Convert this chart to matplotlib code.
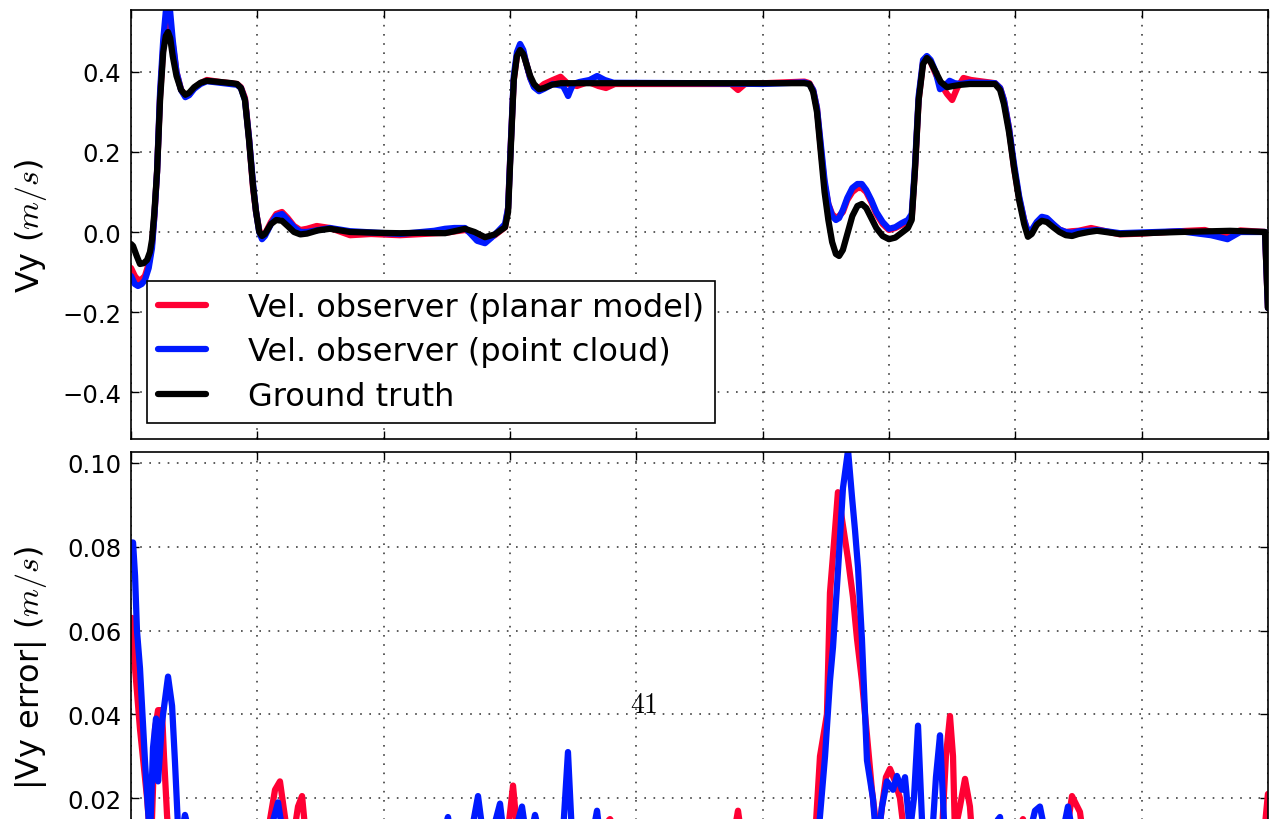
import numpy as np
import matplotlib
matplotlib.use("Agg")
import matplotlib.pyplot as plt
from matplotlib.ticker import MultipleLocator, FuncFormatter

plt.rcParams['mathtext.fontset'] = 'cm'
plt.rcParams['font.family'] = 'DejaVu Sans'

# --- Vy (m/s), time in s ---
t_truth = [0.0, 0.16, 0.45, 0.71, 1.0, 1.27, 1.5, 1.66, 1.85, 2.06,
           2.3, 2.55, 2.75, 2.93, 3.1, 3.3, 3.6, 3.96, 4.3, 4.6,
           5.0, 5.5, 6.0, 7.05, 8.0, 8.39, 8.7, 9.02, 9.34, 9.66,
           9.9, 10.15, 10.37, 10.6, 11.08, 11.5, 11.95, 12.4, 12.9, 13.4,
           13.93, 14.8, 15.75, 17.34, 19.5, 21.29, 23.0, 24.86, 25.6, 26.44,
           27.2, 28.02, 28.8, 29.61, 29.85, 30.05, 30.3, 30.55, 30.8, 31.05,
           31.3, 31.6, 31.9, 32.3, 32.7, 33.3, 34.0, 37.13, 45.04, 53.3,
           53.7, 54.0, 54.3, 54.6, 54.9, 55.2, 55.5, 55.8, 56.05, 56.35,
           56.7, 57.1, 57.5, 57.85, 58.2, 58.6, 59.0, 59.5, 60.0, 60.5,
           61.0, 61.5, 61.8, 62.05, 62.35, 62.7, 63.0, 63.3, 63.7, 64.1,
           64.6, 65.1, 65.7, 66.4, 68.4, 68.8, 69.1, 69.5, 69.9, 70.3,
           70.7, 71.0, 71.3, 71.7, 72.1, 72.5, 73.0, 73.5, 74.0, 74.5,
           75.0, 75.8, 76.47, 78.29, 83.04, 87.0, 89.77, 90.0]
vy_truth = [-0.03, -0.035, -0.06, -0.08, -0.078, -0.07, -0.05, -0.02, 0.05, 0.15,
            0.33, 0.45, 0.49, 0.50, 0.485, 0.44, 0.39, 0.355, 0.343, 0.348,
            0.362, 0.373, 0.378, 0.375, 0.372, 0.37, 0.36, 0.33, 0.23, 0.115,
            0.05, 0.0, -0.01, -0.005, 0.02, 0.03, 0.028, 0.015, 0.0, -0.006,
            -0.004, 0.004, 0.008, 0.0, -0.002, -0.003, -0.002, -0.003, 0.002, 0.008,
            0.0, -0.013, -0.006, 0.012, 0.05, 0.2, 0.38, 0.44, 0.455, 0.445,
            0.42, 0.39, 0.37, 0.357, 0.36, 0.368, 0.372, 0.372, 0.372, 0.372,
            0.37, 0.35, 0.3, 0.2, 0.1, 0.03, -0.025, -0.055, -0.06, -0.045,
            -0.005, 0.04, 0.065, 0.07, 0.06, 0.035, 0.01, -0.01, -0.018, -0.014,
            -0.002, 0.01, 0.03, 0.15, 0.33, 0.42, 0.435, 0.425, 0.4, 0.375,
            0.362, 0.365, 0.368, 0.37, 0.37, 0.355, 0.32, 0.25, 0.16, 0.08,
            0.02, -0.012, -0.005, 0.018, 0.028, 0.025, 0.012, 0.0, -0.008, -0.01,
            -0.005, 0.0, 0.003, -0.005, 0.0, 0.003, 0.0, -0.19]

t_cloud = [0.0, 0.3, 0.55, 0.85, 1.10, 1.4, 1.66, 1.85, 2.06, 2.3,
           2.55, 2.75, 2.93, 3.1, 3.3, 3.6, 3.96, 4.3, 4.6, 5.0,
           5.5, 6.0, 7.05, 8.39, 8.7, 9.02, 9.34, 9.66, 9.9, 10.15,
           10.37, 10.6, 11.08, 11.5, 11.95, 12.4, 12.9, 13.4, 13.93, 15.75,
           17.34, 21.29, 24.0, 24.86, 25.6, 26.44, 26.9, 27.4, 28.02, 28.5,
           29.0, 29.61, 29.85, 30.05, 30.3, 30.55, 30.8, 31.05, 31.3, 31.6,
           31.9, 32.3, 32.7, 33.4, 34.2, 34.45, 34.6, 34.75, 35.0, 35.5,
           36.3, 36.9, 37.5, 38.2, 45.0, 50.0, 53.3, 53.7, 54.0, 54.3,
           54.6, 54.9, 55.2, 55.5, 55.8, 56.05, 56.35, 56.7, 57.1, 57.5,
           57.85, 58.2, 58.6, 59.0, 59.5, 60.0, 60.5, 61.0, 61.5, 61.8,
           62.05, 62.35, 62.7, 63.0, 63.3, 63.7, 64.04, 64.4, 64.8, 65.2,
           65.7, 66.4, 68.4, 68.8, 69.1, 69.5, 69.9, 70.3, 70.7, 71.0,
           71.3, 71.7, 72.1, 72.5, 73.0, 73.5, 74.0, 74.5, 75.0, 75.8,
           76.47, 78.29, 83.04, 85.5, 86.8, 87.8, 89.77, 90.0]
vy_cloud = [-0.11, -0.13, -0.135, -0.13, -0.12, -0.09, -0.04, 0.04, 0.15, 0.35,
            0.48, 0.55, 0.575, 0.55, 0.48, 0.40, 0.355, 0.337, 0.342, 0.358,
            0.37, 0.377, 0.373, 0.368, 0.36, 0.33, 0.235, 0.12, 0.05, 0.0,
            -0.018, -0.01, 0.02, 0.04, 0.045, 0.03, 0.012, 0.0, 0.0, 0.01,
            0.002, -0.005, 0.003, 0.008, 0.01, 0.01, -0.005, -0.022, -0.028, -0.015,
            0.0, 0.02, 0.06, 0.21, 0.39, 0.45, 0.47, 0.455, 0.42, 0.385,
            0.362, 0.352, 0.358, 0.37, 0.365, 0.35, 0.34, 0.352, 0.37, 0.375,
            0.38, 0.39, 0.38, 0.373, 0.372, 0.37, 0.374, 0.37, 0.355, 0.31,
            0.22, 0.13, 0.07, 0.04, 0.03, 0.035, 0.055, 0.085, 0.11, 0.12,
            0.12, 0.105, 0.08, 0.05, 0.025, 0.008, 0.012, 0.022, 0.03, 0.045,
            0.16, 0.34, 0.43, 0.44, 0.43, 0.40, 0.357, 0.365, 0.378, 0.372,
            0.37, 0.374, 0.372, 0.36, 0.33, 0.26, 0.17, 0.09, 0.03, 0.0,
            0.005, 0.025, 0.038, 0.035, 0.02, 0.006, 0.0, -0.002, 0.002, 0.003,
            0.005, -0.003, 0.002, -0.008, -0.018, 0.0, 0.0, -0.19]

t_planar = [0.0, 0.3, 0.55, 0.85, 1.10, 1.4, 1.66, 1.85, 2.06, 2.3,
            2.55, 2.75, 2.93, 3.1, 3.3, 3.6, 3.96, 4.3, 4.6, 5.0,
            5.5, 6.0, 7.05, 8.39, 8.7, 9.02, 9.34, 9.66, 9.9, 10.15,
            10.37, 10.6, 11.08, 11.5, 11.95, 12.4, 12.9, 13.4, 13.93, 14.7,
            15.75, 17.34, 19.0, 21.29, 24.86, 26.44, 27.3, 28.02, 28.8, 29.61,
            29.85, 30.05, 30.3, 30.55, 30.8, 31.05, 31.3, 31.6, 31.9, 32.3,
            32.7, 33.4, 34.0, 34.6, 35.3, 36.2, 37.0, 37.6, 38.3, 45.0,
            47.5, 48.05, 48.6, 53.3, 53.7, 54.0, 54.3, 54.6, 54.9, 55.2,
            55.5, 55.8, 56.05, 56.35, 56.7, 57.1, 57.5, 57.85, 58.2, 58.6,
            59.0, 59.5, 60.0, 60.5, 61.0, 61.5, 61.8, 62.05, 62.35, 62.7,
            63.0, 63.3, 63.7, 64.1, 64.6, 65.0, 65.4, 65.9, 66.5, 68.4,
            68.8, 69.1, 69.5, 69.9, 70.3, 70.7, 71.0, 71.3, 71.7, 72.1,
            72.5, 73.0, 73.5, 74.0, 74.5, 75.0, 76.0, 78.29, 80.0, 83.04,
            85.0, 86.8, 87.8, 89.77, 90.0]
vy_planar = [-0.09, -0.11, -0.12, -0.118, -0.11, -0.08, -0.03, 0.04, 0.15, 0.34,
             0.46, 0.52, 0.535, 0.52, 0.47, 0.40, 0.356, 0.34, 0.345, 0.36,
             0.372, 0.38, 0.375, 0.37, 0.362, 0.335, 0.235, 0.11, 0.05, 0.005,
             -0.013, -0.005, 0.025, 0.045, 0.05, 0.035, 0.015, 0.005, 0.008, 0.015,
             0.01, -0.008, -0.005, -0.008, -0.002, 0.005, -0.005, -0.02, -0.008, 0.012,
             0.06, 0.21, 0.38, 0.44, 0.46, 0.45, 0.42, 0.385, 0.365, 0.36,
             0.37, 0.38, 0.388, 0.37, 0.365, 0.375, 0.365, 0.36, 0.37, 0.37,
             0.37, 0.355, 0.37, 0.376, 0.372, 0.355, 0.31, 0.21, 0.12, 0.07,
             0.045, 0.035, 0.04, 0.05, 0.08, 0.1, 0.11, 0.11, 0.1, 0.075,
             0.045, 0.02, 0.005, 0.01, 0.018, 0.025, 0.035, 0.15, 0.33, 0.425,
             0.435, 0.425, 0.395, 0.37, 0.345, 0.33, 0.36, 0.385, 0.38, 0.372,
             0.36, 0.33, 0.26, 0.16, 0.085, 0.03, 0.0, 0.0, 0.02, 0.033,
             0.032, 0.018, 0.006, 0.0, 0.002, 0.003, 0.01, -0.006, -0.004, 0.002,
             0.005, -0.012, 0.004, 0.0, -0.19]

# --- |Vy error| (m/s) ---
t_err_cloud = [0.0, 0.16, 0.32, 0.47, 0.71, 1.11, 1.50, 1.74, 1.98, 2.14, 2.45, 2.93, 3.25,
               3.48, 3.80, 4.27, 5.07, 10.21, 11.00, 11.64, 12.19, 13.38, 15.75, 21.29,
               24.46, 25.09, 25.65, 26.83, 27.47, 28.10, 29.21, 29.68, 30.40, 30.95,
               31.43, 31.98, 32.77, 34.12, 34.59, 34.99, 36.33, 36.89, 37.36, 41.08,
               45.04, 49.79, 52.96, 54.38, 54.94, 55.33, 55.57, 55.96, 56.36, 56.76,
               57.07, 57.31, 57.55, 57.86, 58.26, 58.73, 59.05, 59.45, 59.84, 60.32,
               60.63, 61.03, 61.27, 61.66, 61.98, 62.30, 62.61, 62.85, 63.40, 63.72,
               64.04, 64.35, 64.67, 65.62, 66.81, 68.79, 69.18, 70.37, 71.16, 71.56,
               71.95, 72.35, 73.14, 73.77, 74.17, 74.64, 75.91, 80.66, 90.0]
err_cloud = [0.081, 0.081, 0.073, 0.060, 0.051, 0.0286, 0.010, 0.032, 0.039, 0.024, 0.038, 0.049, 0.042,
             0.0286, 0.008, 0.016, 0.006, 0.005, 0.012, 0.019, 0.008, 0.012, 0.004, 0.006,
             0.008, 0.0155, 0.005, 0.010, 0.0205, 0.006, 0.0187, 0.007, 0.012, 0.018,
             0.008, 0.016, 0.006, 0.008, 0.031, 0.006, 0.008, 0.017, 0.005, 0.004,
             0.006, 0.004, 0.006, 0.010, 0.030, 0.048, 0.056, 0.074, 0.094, 0.103,
             0.092, 0.084, 0.075, 0.058, 0.029, 0.020, 0.008, 0.018, 0.024, 0.022,
             0.0253, 0.022, 0.025, 0.012, 0.020, 0.0373, 0.015, 0.005, 0.010, 0.025,
             0.035, 0.015, 0.005, 0.006, 0.008, 0.0155, 0.006, 0.010, 0.012, 0.017,
             0.018, 0.012, 0.006, 0.012, 0.018, 0.010, 0.004, 0.005, 0.008]

t_err_planar = [0.0, 0.08, 0.32, 0.71, 1.27, 1.58, 1.90, 2.14, 2.45, 2.61, 2.85, 3.09, 5.46,
                10.21, 10.84, 11.40, 11.79, 12.35, 12.82, 13.22, 13.54, 13.93, 15.75, 22.88,
                29.21, 29.84, 30.24, 30.63, 33.96, 37.92, 40.29, 47.41, 48.05, 48.60,
                52.96, 54.14, 54.54, 55.09, 55.33, 55.73, 55.96, 56.36, 56.76, 57.15,
                57.47, 57.86, 58.26, 58.65, 59.13, 59.45, 59.76, 60.08, 60.48, 60.87,
                61.27, 62.06, 62.45, 63.09, 63.64, 64.20, 64.51, 64.83, 65.07, 65.22,
                65.62, 66.02, 66.41, 66.65, 68.79, 70.61, 71.16, 73.54, 74.17, 74.49,
                75.12, 75.59, 80.66, 89.53, 90.0]
err_planar = [0.063, 0.063, 0.051, 0.0365, 0.020, 0.008, 0.0365, 0.041, 0.041, 0.030, 0.016, 0.006, 0.004,
              0.004, 0.012, 0.022, 0.024, 0.012, 0.010, 0.018, 0.0205, 0.008, 0.005, 0.006,
              0.008, 0.012, 0.023, 0.010, 0.005, 0.015, 0.004, 0.006, 0.017, 0.005,
              0.004, 0.010, 0.030, 0.040, 0.069, 0.084, 0.093, 0.085, 0.077, 0.068,
              0.058, 0.048, 0.035, 0.022, 0.010, 0.018, 0.025, 0.027, 0.024, 0.020,
              0.010, 0.006, 0.014, 0.010, 0.005, 0.012, 0.030, 0.0396, 0.030, 0.012,
              0.018, 0.0246, 0.018, 0.008, 0.005, 0.015, 0.006, 0.008, 0.014, 0.0205,
              0.0167, 0.006, 0.004, 0.006, 0.021]

labels = ['Vel. observer (planar model)', 'Vel. observer (point cloud)', 'Ground truth']
RED = '#ff0033'
BLUE = '#0019ff'
LINE = dict(lw=4.5, solid_joinstyle='round', solid_capstyle='round')


def minus_fmt(decimals, hide_zero=False):
    def fmt(v, pos):
        if abs(v) < 1e-9:
            if hide_zero:
                return ''   # falls below the cropped page edge
            v = 0.0
        return f'{v:.{decimals}f}'.replace('-', '\u2212')
    return FuncFormatter(fmt)


def style_axes(ax):
    ax.grid(True, color='0.25', linestyle=(0, (1, 4.5)), linewidth=1.2)
    ax.tick_params(direction='in', length=6, width=1, top=True, right=True,
                   labelsize=17.5, pad=7)
    for sp in ax.spines.values():
        sp.set_linewidth(1.2)
    ax.xaxis.set_major_locator(MultipleLocator(10))
    ax.set_xlim(0, 90)


fig = plt.figure(figsize=(12.77, 8.2), dpi=100)
fig.patch.set_facecolor('white')
ax_top = fig.add_axes([0.1026, 0.4634, 0.8903, 0.5232])
ax_bot = fig.add_axes([0.1026, -0.0768, 0.8903, 0.5244])

ax_top.plot(t_planar, vy_planar, color=RED, label=labels[0], **LINE)
ax_top.plot(t_cloud, vy_cloud, color=BLUE, label=labels[1], **LINE)
ax_top.plot(t_truth, vy_truth, color='black', label=labels[2], **LINE)
style_axes(ax_top)
ax_top.set_ylim(-0.5175, 0.555)
ax_top.yaxis.set_major_locator(MultipleLocator(0.2))
ax_top.yaxis.set_major_formatter(minus_fmt(1))
ax_top.tick_params(labelbottom=False)
ax_top.set_ylabel('Vy ($m/s$)', fontsize=23)
ax_top.yaxis.set_label_coords(-0.072, 0.5)
leg = ax_top.legend(loc='lower left', fontsize=23, fancybox=False, framealpha=1,
                    edgecolor='black', borderaxespad=0.5, labelspacing=0.42,
                    handlelength=1.5, handletextpad=1.3, borderpad=0.35)
leg.get_frame().set_linewidth(1.2)

ax_bot.plot(t_err_planar, err_planar, color=RED, **LINE)
ax_bot.plot(t_err_cloud, err_cloud, color=BLUE, **LINE)
style_axes(ax_bot)
ax_bot.set_ylim(0, 0.1026)
ax_bot.yaxis.set_major_locator(MultipleLocator(0.02))
ax_bot.yaxis.set_major_formatter(minus_fmt(2, hide_zero=True))
# the time labels sit below the cropped page edge
ax_bot.tick_params(labelbottom=False)
ax_bot.set_ylabel('|Vy error| ($m/s$)', fontsize=23)
ax_bot.yaxis.set_label_coords(-0.072, 0.5)

# page number from the source document
fig.text(0.504, 0.14, '$41$', fontsize=20, ha='center', va='center')

fig.savefig('out.png', dpi=100, facecolor='white')
